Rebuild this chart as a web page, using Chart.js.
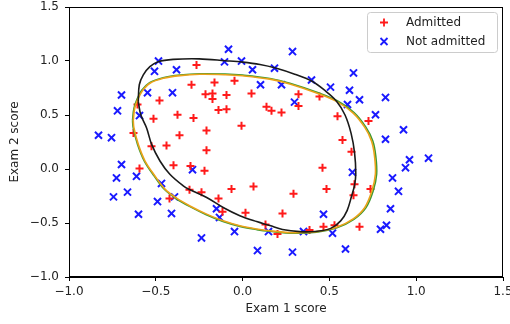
<!DOCTYPE html>
<html>
<head>
<meta charset="utf-8">
<script src="https://cdn.jsdelivr.net/npm/chart.js@4"></script>
<style>
  html, body { margin: 0; padding: 0; background: #fff; }
  #wrap { width: 510px; height: 324px; }
</style>
</head>
<body>
<div id="wrap"><canvas id="scoreChart" width="510" height="324"></canvas></div>
<script>
// Admitted applicants (y = 1)
const admittedX = [0.051267, -0.092742, -0.21371, -0.375, -0.51325, -0.52477, -0.39804, -0.30588, 0.016705, 0.13191,
    0.38537, 0.52938, 0.63882, 0.73675, 0.54666, 0.322, 0.16647, -0.046659, -0.17339, -0.47869,
    -0.60541, -0.62846, -0.59389, -0.42108, -0.11578, 0.20104, 0.46601, 0.67339, -0.13882, -0.29435,
    -0.26555, -0.16187, -0.17339, -0.28283, -0.36348, -0.30012, -0.23675, -0.06394, 0.062788, 0.22984,
    0.2932, 0.48329, 0.64459, 0.46025, 0.6273, 0.57546, 0.72523, 0.22408, 0.44297, 0.322,
    0.13767, -0.0063364, -0.092742, -0.20795, -0.20795, -0.43836, -0.21947, -0.13882];
const admittedY = [0.69956, 0.68494, 0.69225, 0.50219, 0.46564, 0.2098, 0.034357, -0.19225, -0.40424, -0.51389,
    -0.56506, -0.5212, -0.24342, -0.18494, 0.48757, 0.5826, 0.53874, 0.81652, 0.69956, 0.63377,
    0.59722, 0.33406, 0.005117, -0.27266, -0.39693, -0.60161, -0.53582, -0.53582, 0.54605, 0.77997,
    0.96272, 0.8019, 0.64839, 0.47295, 0.31213, 0.027047, -0.21418, -0.18494, -0.16301, -0.41155,
    -0.2288, -0.18494, -0.14108, 0.012427, 0.15863, 0.26827, 0.44371, 0.52412, 0.67032, 0.69225,
    0.57529, 0.39985, 0.55336, 0.35599, 0.17325, 0.21711, -0.016813, -0.27266];

// Not admitted applicants (y = 0)
const rejectedX = [0.18376, 0.22408, 0.29896, 0.50634, 0.61578, 0.60426, 0.76555, 0.92684, 0.82316, 0.96141,
    0.93836, 0.86348, 0.89804, 0.85196, 0.82892, 0.79435, 0.59274, 0.51786, 0.46601, 0.35081,
    0.28744, 0.085829, 0.14919, -0.13306, -0.40956, -0.39228, -0.74366, -0.69758, -0.75518, -0.69758,
    -0.4038, -0.38076, -0.50749, -0.54781, 0.10311, 0.057028, -0.10426, -0.081221, 0.28744, 0.39689,
    0.63882, 0.82316, 0.67339, 1.0709, -0.046659, -0.23675, -0.15035, -0.49021, -0.46717, -0.28859,
    -0.61118, -0.66302, -0.59965, -0.72638, -0.83007, -0.72062, -0.59389, -0.48445, -0.0063364, 0.63265];
const rejectedY = [0.93348, 0.77997, 0.61915, 0.75804, 0.7288, 0.59722, 0.50219, 0.3633, 0.27558, 0.085526,
    0.012427, -0.082602, -0.20687, -0.36769, -0.5212, -0.55775, -0.7405, -0.5943, -0.41886, -0.57968,
    -0.76974, -0.75512, -0.57968, -0.4481, -0.41155, -0.25804, -0.25804, 0.041667, 0.2902, 0.68494,
    0.70687, 0.91886, 0.90424, 0.70687, 0.77997, 0.91886, 0.99196, 1.1089, 1.087, 0.82383,
    0.88962, 0.66301, 0.64108, 0.10015, -0.57968, -0.63816, -0.36769, -0.3019, -0.13377, -0.0060673,
    -0.067982, -0.21418, -0.41886, -0.082602, 0.31213, 0.53874, 0.49488, 0.99927, 0.99927, -0.030612];

// decision boundaries
const blackX = [-0.601, -0.595, -0.572, -0.534, -0.486, -0.400, -0.250, -0.100, 0.000, 0.100,
    0.190, 0.300, 0.400, 0.470, 0.540, 0.590, 0.625, 0.645, 0.652, 0.645,
    0.628, 0.602, 0.565, 0.505, 0.420, 0.330, 0.230, 0.157, 0.081, -0.016,
    -0.112, -0.207, -0.306, -0.342, -0.419, -0.476, -0.524, -0.553, -0.587, -0.601];
const blackY = [0.626, 0.780, 0.872, 0.948, 0.994, 1.015, 1.020, 1.003, 0.990, 0.968,
    0.935, 0.878, 0.812, 0.732, 0.630, 0.500, 0.330, 0.150, -0.040, -0.150,
    -0.250, -0.385, -0.480, -0.552, -0.578, -0.580, -0.560, -0.524, -0.487, -0.432,
    -0.356, -0.264, -0.190, -0.156, -0.049, 0.074, 0.228, 0.380, 0.504, 0.626];

const greenX = [-0.634, -0.626, -0.609, -0.582, -0.536, -0.458, -0.361, -0.246, -0.100, 0.000,
    0.157, 0.272, 0.428, 0.545, 0.642, 0.710, 0.750, 0.767, 0.772, 0.752,
    0.710, 0.641, 0.543, 0.426, 0.291, 0.157, 0.081, -0.016, -0.113, -0.209,
    -0.306, -0.384, -0.451, -0.509, -0.566, -0.605, -0.630, -0.634];
const greenY = [0.450, 0.560, 0.642, 0.726, 0.799, 0.845, 0.870, 0.882, 0.879, 0.869,
    0.838, 0.794, 0.710, 0.632, 0.523, 0.388, 0.260, 0.120, -0.048, -0.204,
    -0.360, -0.467, -0.545, -0.585, -0.595, -0.577, -0.561, -0.531, -0.485, -0.423,
    -0.346, -0.273, -0.188, -0.065, 0.074, 0.228, 0.380, 0.450];

const orangeX = [-0.630, -0.622, -0.605, -0.578, -0.534, -0.457, -0.361, -0.246, -0.100, 0.000,
    0.157, 0.272, 0.426, 0.541, 0.637, 0.704, 0.743, 0.760, 0.765, 0.745,
    0.704, 0.637, 0.541, 0.426, 0.291, 0.157, 0.081, -0.016, -0.112, -0.207,
    -0.303, -0.380, -0.447, -0.505, -0.562, -0.601, -0.626, -0.630];
const orangeY = [0.450, 0.560, 0.640, 0.722, 0.794, 0.840, 0.865, 0.877, 0.873, 0.863,
    0.832, 0.788, 0.704, 0.626, 0.518, 0.385, 0.258, 0.120, -0.048, -0.202,
    -0.356, -0.462, -0.540, -0.580, -0.590, -0.572, -0.556, -0.526, -0.480, -0.418,
    -0.342, -0.270, -0.186, -0.064, 0.074, 0.228, 0.380, 0.450];

const tickValues = [-1.0, -0.5, 0.0, 0.5, 1.0, 1.5];

function toPoints(xs, ys) {
    return xs.map((x, i) => ({ x: x, y: ys[i] }));
}

function fmtTick(value) {
    return Number(value).toFixed(1).replace('-', '\u2212');
}

const FONT = 'DejaVu Sans';

// axes frame (top and right spines too)
const framePlugin = {
    id: 'frame',
    afterDraw(chart) {
        const { ctx, chartArea: a } = chart;
        ctx.save();
        ctx.strokeStyle = '#000';
        ctx.lineWidth = 1;
        ctx.strokeRect(a.left + 0.5, a.top + 0.5, a.right - a.left - 1, a.bottom - a.top - 1);
        ctx.restore();
    }
};

// matplotlib style legend box in the upper right corner
const boxLegend = {
    id: 'boxLegend',
    afterDraw(chart) {
        const ctx = chart.ctx;
        const items = chart.data.datasets.filter(d => d.inLegend);
        const x0 = 367, y0 = 12, w = 130, h = 40;
        ctx.save();
        ctx.fillStyle = 'rgba(255,255,255,0.8)';
        ctx.strokeStyle = '#cccccc';
        ctx.lineWidth = 1;
        ctx.beginPath();
        ctx.roundRect(x0 + 0.5, y0 + 0.5, w, h, 3);
        ctx.fill();
        ctx.stroke();
        ctx.font = '12px "' + FONT + '"';
        ctx.textBaseline = 'middle';
        items.forEach((d, i) => {
            const cy = y0 + 10.5 + i * 19;
            const cx = 384;
            ctx.strokeStyle = d.borderColor;
            ctx.lineWidth = 1.8;
            ctx.beginPath();
            if (d.pointStyle === 'cross') {
                ctx.moveTo(cx - 4, cy); ctx.lineTo(cx + 4, cy);
                ctx.moveTo(cx, cy - 4); ctx.lineTo(cx, cy + 4);
            } else {
                ctx.moveTo(cx - 3.5, cy - 3.5); ctx.lineTo(cx + 3.5, cy + 3.5);
                ctx.moveTo(cx - 3.5, cy + 3.5); ctx.lineTo(cx + 3.5, cy - 3.5);
            }
            ctx.stroke();
            ctx.fillStyle = '#222';
            ctx.fillText(d.label, 406, cy + 0.5);
        });
        ctx.restore();
    }
};

const ctx = document.getElementById('scoreChart').getContext('2d');
const scoreChart = new Chart(ctx, {
    type: 'scatter',
    data: {
        datasets: [
            {
                label: 'boundary 1',
                data: toPoints(blackX, blackY),
                showLine: true,
                borderColor: '#1a1a1a',
                borderWidth: 1.6,
                pointRadius: 0,
                tension: 0.35,
                order: 0
            },
            {
                label: 'boundary 3',
                data: toPoints(orangeX, orangeY),
                showLine: true,
                borderColor: '#eba21a',
                borderWidth: 1.6,
                pointRadius: 0,
                tension: 0.35,
                order: 1
            },
            {
                label: 'boundary 2',
                data: toPoints(greenX, greenY),
                showLine: true,
                borderColor: '#3c9a32',
                borderWidth: 1.6,
                pointRadius: 0,
                tension: 0.35,
                order: 2
            },
            {
                label: 'Admitted',
                inLegend: true,
                data: toPoints(admittedX, admittedY),
                pointStyle: 'cross',
                pointRadius: 4,
                pointBorderWidth: 2,
                borderColor: '#ff1a1a',
                backgroundColor: '#ff1a1a',
                order: 3
            },
            {
                label: 'Not admitted',
                inLegend: true,
                data: toPoints(rejectedX, rejectedY),
                pointStyle: 'crossRot',
                pointRadius: 5,
                pointBorderWidth: 2,
                borderColor: '#1a1aff',
                backgroundColor: '#1a1aff',
                order: 4
            }
        ]
    },
    options: {
        responsive: false,
        animation: false,
        layout: {
            padding: { left: 0, right: 7, top: 5, bottom: 0 }
        },
        plugins: {
            legend: { display: false },
            tooltip: { enabled: false }
        },
        scales: {
            x: {
                type: 'linear',
                min: -1.0,
                max: 1.5,
                afterBuildTicks: function(scale) {
                    scale.ticks = tickValues.map(v => ({ value: v }));
                },
                afterFit: function(scale) {
                    scale.height = 47;
                    scale.paddingLeft = 0;
                    scale.paddingRight = 0;
                },
                ticks: {
                    font: { size: 12, family: FONT },
                    color: '#222',
                    padding: 4,
                    maxRotation: 0,
                    callback: fmtTick
                },
                grid: {
                    drawOnChartArea: false,
                    drawTicks: true,
                    tickLength: 4,
                    color: '#000'
                },
                border: { display: true, color: '#000' },
                title: {
                    display: true,
                    text: 'Exam 1 score',
                    font: { size: 12, family: FONT },
                    color: '#222',
                    padding: { top: 0, bottom: 7.8 }
                }
            },
            y: {
                type: 'linear',
                min: -1.0,
                max: 1.5,
                afterBuildTicks: function(scale) {
                    scale.ticks = tickValues.map(v => ({ value: v }));
                },
                afterFit: function(scale) {
                    scale.width = 69;
                    scale.paddingTop = 0;
                    scale.paddingBottom = 0;
                },
                ticks: {
                    font: { size: 12, family: FONT },
                    color: '#222',
                    padding: 6,
                    callback: fmtTick
                },
                grid: {
                    drawOnChartArea: false,
                    drawTicks: true,
                    tickLength: 4,
                    color: '#000'
                },
                border: { display: true, color: '#000' },
                title: {
                    display: true,
                    text: 'Exam 2 score',
                    font: { size: 12, family: FONT },
                    color: '#222',
                    padding: { top: 8, bottom: 0 }
                }
            }
        }
    },
    plugins: [framePlugin, boxLegend]
});
</script>
</body>
</html>
